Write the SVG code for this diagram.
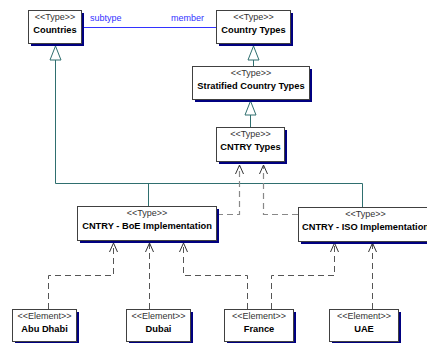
<svg xmlns="http://www.w3.org/2000/svg" width="427" height="343" viewBox="0 0 427 343">
<style>
.box{fill:#fff;stroke:#404040;stroke-width:1}
.sh{fill:#000080}
.st{font-family:"Liberation Sans",Arial,sans-serif;font-size:9px;fill:#333;text-anchor:middle}
.nm{font-family:"Liberation Sans",Arial,sans-serif;font-size:9.3px;font-weight:bold;fill:#000;text-anchor:middle}
.lbl{font-family:"Liberation Sans",Arial,sans-serif;font-size:9px;fill:#3333ff}
.gen{fill:none;stroke:#2f6f6f;stroke-width:1}
.tri{fill:#fff;stroke:#2f6f6f;stroke-width:1}
.dep{fill:none;stroke:#555;stroke-width:1;stroke-dasharray:6,4}
.depg{fill:none;stroke:#888;stroke-width:1.2;stroke-dasharray:6,4}
.ah{fill:none;stroke:#333;stroke-width:1}
</style>
<g id="connectors">
<line x1="81" y1="27.5" x2="216" y2="27.5" stroke="#3333ff" stroke-width="1"/>
<text class="lbl" x="90" y="21">subtype</text>
<text class="lbl" x="171" y="21">member</text>
<path class="gen" d="M55.5,60 V183.5 H362.5 V207"/>
<path class="gen" d="M148.5,183.5 V206"/>
<polygon class="tri" points="55.5,46 50,60 61,60"/>
<path class="gen" d="M253.5,60 V66"/>
<polygon class="tri" points="253.5,46 248,60 259,60"/>
<path class="gen" d="M250.5,115 V127"/>
<polygon class="tri" points="250.5,101 245,115 256,115"/>
<path class="depg" d="M217,214.5 H239.5 V166"/>
<path class="depg" d="M298,214.5 H263.5 V166"/>
<path class="ah" d="M235.5,174 L239.5,165 L243.5,174 M259.5,174 L263.5,165 L267.5,174"/>
<path class="dep" d="M48.5,309 V275.5 H113.5 V244"/>
<path class="dep" d="M149.5,309 V244"/>
<path class="dep" d="M247.5,309 V275.5 H183.5 V244"/>
<path class="dep" d="M271.5,309 V275.5 H334.5 V244"/>
<path class="dep" d="M372.5,309 V244"/>
<path class="ah" d="M109.5,252 L113.5,243 L117.5,252 M145.5,252 L149.5,243 L153.5,252 M179.5,252 L183.5,243 L187.5,252 M330.5,252 L334.5,243 L338.5,252 M368.5,252 L372.5,243 L376.5,252"/>
</g>
<g id="countries">
<rect class="sh" x="31" y="13" width="53" height="33"/>
<rect class="box" x="28.5" y="10.5" width="53" height="33"/>
<text class="st" x="55" y="19.5">&lt;&lt;Type&gt;&gt;</text>
<text class="nm" x="55" y="32.5">Countries</text>
</g>
<g id="country-types">
<rect class="sh" x="219" y="13" width="74" height="33"/>
<rect class="box" x="216.5" y="10.5" width="74" height="33"/>
<text class="st" x="253.5" y="19.5">&lt;&lt;Type&gt;&gt;</text>
<text class="nm" x="253.5" y="32.5">Country Types</text>
</g>
<g id="stratified">
<rect class="sh" x="195" y="69" width="117" height="33"/>
<rect class="box" x="192.5" y="66.5" width="117" height="33"/>
<text class="st" x="251" y="75.5">&lt;&lt;Type&gt;&gt;</text>
<text class="nm" x="251" y="88.5">Stratified Country Types</text>
</g>
<g id="cntry-types">
<rect class="sh" x="219" y="130" width="68" height="34"/>
<rect class="box" x="216.5" y="127.5" width="68" height="34"/>
<text class="st" x="250.5" y="137">&lt;&lt;Type&gt;&gt;</text>
<text class="nm" x="250.5" y="150">CNTRY Types</text>
</g>
<g id="boe">
<rect class="sh" x="80" y="209" width="139" height="34"/>
<rect class="box" x="77.5" y="206.5" width="139" height="34"/>
<text class="st" x="147" y="216">&lt;&lt;Type&gt;&gt;</text>
<text class="nm" x="147" y="229">CNTRY - BoE Implementation</text>
</g>
<g id="iso">
<rect class="sh" x="301" y="210" width="134" height="34"/>
<rect class="box" x="298.5" y="207.5" width="134" height="34"/>
<text class="st" x="365.5" y="217">&lt;&lt;Type&gt;&gt;</text>
<text class="nm" x="365.5" y="230">CNTRY - ISO Implementation</text>
</g>
<g id="abu-dhabi">
<rect class="sh" x="15" y="312" width="64" height="32"/>
<rect class="box" x="12.5" y="309.5" width="64" height="32"/>
<text class="st" x="44.5" y="318.5">&lt;&lt;Element&gt;&gt;</text>
<text class="nm" x="44.5" y="332">Abu Dhabi</text>
</g>
<g id="dubai">
<rect class="sh" x="129" y="312" width="64" height="32"/>
<rect class="box" x="126.5" y="309.5" width="64" height="32"/>
<text class="st" x="158.5" y="318.5">&lt;&lt;Element&gt;&gt;</text>
<text class="nm" x="158.5" y="332">Dubai</text>
</g>
<g id="france">
<rect class="sh" x="227" y="312" width="69" height="32"/>
<rect class="box" x="224.5" y="309.5" width="69" height="32"/>
<text class="st" x="259" y="318.5">&lt;&lt;Element&gt;&gt;</text>
<text class="nm" x="259" y="332">France</text>
</g>
<g id="uae">
<rect class="sh" x="332" y="312" width="69" height="32"/>
<rect class="box" x="329.5" y="309.5" width="69" height="32"/>
<text class="st" x="364" y="318.5">&lt;&lt;Element&gt;&gt;</text>
<text class="nm" x="364" y="332">UAE</text>
</g>
</svg>
